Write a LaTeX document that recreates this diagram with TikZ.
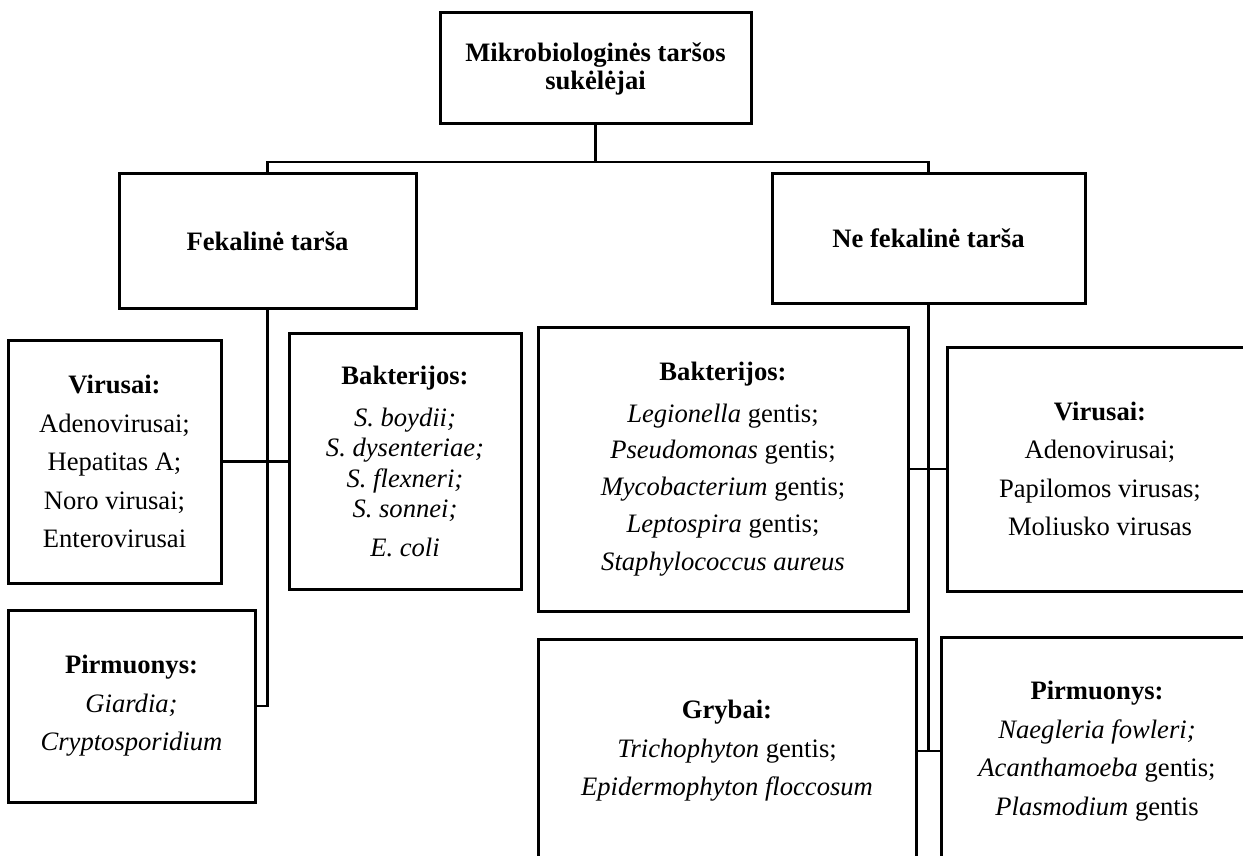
\documentclass[tikz,border=0pt]{standalone}
\usepackage{fontspec}
\setmainfont{Liberation Serif}
\begin{document}
\begin{tikzpicture}[x=1pt,y=-1pt,
  box/.style={draw,line width=3pt,align=center,inner sep=0pt,
    font=\fontsize{26.6}{38.5}\selectfont},
  head/.style={box,font=\fontsize{26.6}{28}\selectfont\bfseries},
  link/.style={line width=2.7pt}]
\useasboundingbox (0,0) rectangle (1243,856);
\clip (0,0) rectangle (1243,856);
% Top level
\node[head,minimum width=311pt,minimum height=111pt] (root) at (595.5,68.5)
  {Mikrobiologinės taršos\\sukėlėjai};
\node[head,minimum width=297pt,minimum height=134pt] (fek) at (267.5,241) {Fekalinė tarša};
\node[head,minimum width=313pt,minimum height=129pt] (nefek) at (928.5,238.5) {Ne fekalinė tarša};
% Fecal pollution
\node[box,minimum width=213pt,minimum height=243pt] (lvir) at (114.5,461.5)
  {\textbf{Virusai:}\\Adenovirusai;\\Hepatitas A;\\Noro virusai;\\Enterovirusai};
\node[box,minimum width=232pt,minimum height=256pt] (lbak) at (405,461.5)
  {\textbf{Bakterijos:}\\[3pt]\textit{S. boydii;}\\[-8pt]\textit{S. dysenteriae;}\\[-8pt]
   \textit{S. flexneri;}\\[-8pt]\textit{S. sonnei;}\\\textit{E. coli}};
\node[box,minimum width=247pt,minimum height=192pt] (lpir) at (131.5,706)
  {\textbf{Pirmuonys:}\\\textit{Giardia;}\\\textit{Cryptosporidium}};
% Non-fecal pollution
\node[box,minimum width=370pt,minimum height=284pt] (rbak) at (723,469)
  {\textbf{Bakterijos:}\\[3pt]\textit{Legionella} gentis;\\[-2pt]\textit{Pseudomonas} gentis;\\[-2pt]
   \textit{Mycobacterium} gentis;\\[-1.5pt]\textit{Leptospira} gentis;\\[-0.5pt]\textit{Staphylococcus aureus}};
\node[box,minimum width=306pt,minimum height=244pt] (rvir) at (1100,469)
  {\textbf{Virusai:}\\Adenovirusai;\\Papilomos virusas;\\Moliusko virusas};
\node[box,minimum width=378pt,minimum height=224pt] (gryb) at (727,751)
  {\textbf{Grybai:}\\\textit{Trichophyton} gentis;\\\textit{Epidermophyton floccosum}};
\node[box,minimum width=312pt,minimum height=228pt] (rpir) at (1097,751)
  {\textbf{Pirmuonys:}\\\textit{Naegleria fowleri;}\\\textit{Acanthamoeba} gentis;\\\textit{Plasmodium} gentis};
% Connectors
\coordinate (bar) at (595.5,162);
\draw[link] (root.south) -- (bar);
\draw[link] (fek.north) |- (bar) -| (nefek.north);
\draw[link] (fek.south) |- (lpir.east);
\draw[link] (lvir.east) -- (lbak.west);
\draw[link] (nefek.south) |- (gryb.east);
\draw[link] (gryb.east) -- (rpir.west);
\draw[link] (rbak.east) -- (rvir.west);
\end{tikzpicture}
\end{document}
